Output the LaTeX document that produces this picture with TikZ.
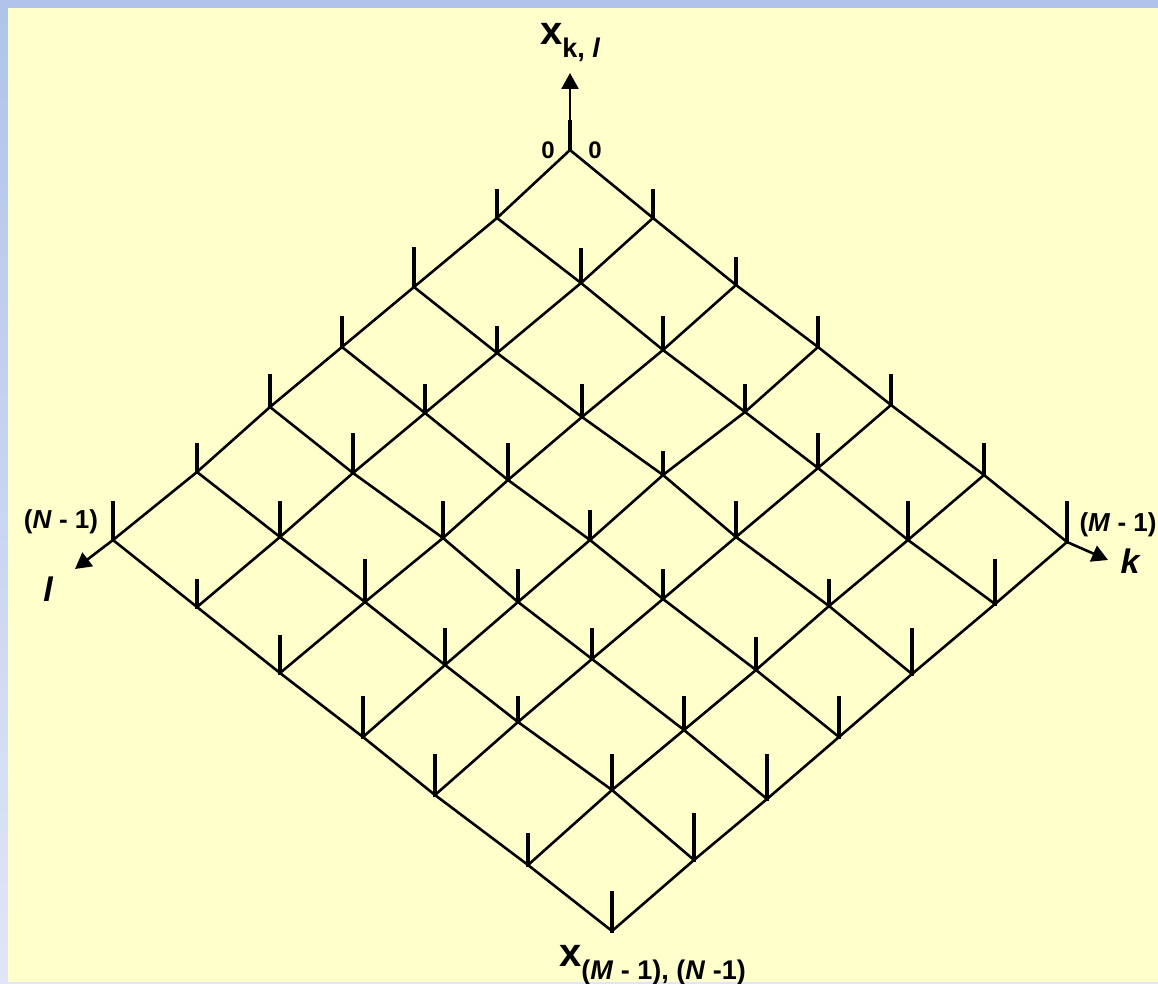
\documentclass[tikz,border=0pt]{standalone}
\usepackage{fontspec}
\setmainfont{Liberation Sans}
\usepackage{tikz}
\usetikzlibrary{arrows.meta}
\definecolor{frameblue}{RGB}{176,196,234}
\definecolor{framepale}{RGB}{224,230,245}
\definecolor{paper}{RGB}{255,255,204}

\begin{document}
\begin{tikzpicture}[x=1pt,y=-1pt,
  gridline/.style={line width=2.6pt,line cap=round,line join=round},
  stem/.style={line width=4.2pt},
  axis/.style={line width=2.6pt,-{Triangle[length=16pt,width=17pt]}},
  lbl/.style={inner sep=0pt,font=\bfseries\fontsize{26}{26}\selectfont}]
\useasboundingbox (0,0) rectangle (1158,984);
% frame and paper
\fill[frameblue] (0,0) rectangle (1158,984);
\shade[top color=frameblue,bottom color=framepale] (0,8) rectangle (8,984);
\fill[paper] (8,8) rectangle (1158,982);
\fill[framepale] (8,982) rectangle (1158,984);
% lattice points k/l with stem lengths
\foreach \i/\j/\px/\py/\len in {
  0/0/570/150/30, 1/0/653/218/29, 2/0/736/285/28, 3/0/818/347/31, 4/0/891/405/31, 5/0/984/475/32, 6/0/1067/542/41,
  0/1/497/218/29, 1/1/581/283/35, 2/1/663/350/34, 3/1/745/412/28, 4/1/818/468/35, 5/1/908/540/39, 6/1/995/604/45,
  0/2/414/287/40, 1/2/497/353/27, 2/2/582/417/33, 3/2/663/475/24, 4/2/736/537/36, 5/2/829/606/27, 6/2/912/674/46,
  0/3/342/347/31, 1/3/425/413/29, 2/3/508/480/37, 3/3/590/540/30, 4/3/663/599/30, 5/3/756/670/33, 6/3/839/737/41,
  0/4/270/407/33, 1/4/353/473/40, 2/4/443/538/37, 3/4/518/602/33, 4/4/592/659/31, 5/4/684/730/34, 6/4/767/799/45,
  0/5/197/472/29, 1/5/280/537/36, 2/5/365/602/43, 3/5/445/665/37, 4/5/518/722/26, 5/5/612/790/36, 6/5/694/860/47,
  0/6/113/540/39, 1/6/197/607/28, 2/6/280/673/38, 3/6/363/737/41, 4/6/435/795/41, 5/6/528/865/32, 6/6/612/931/40}{
  \coordinate (p\i\j) at (\px,\py);
  \coordinate (s\i\j) at (\px,\py-\len);
  \draw[stem] (\px,\py+2) -- (s\i\j);
}
% grid lines along k and along l
\foreach \a in {0,...,6}{
  \foreach \b in {0,...,5}{
    \pgfmathtruncatemacro{\bnext}{\b+1}
    \draw[gridline] (p\b\a) -- (p\bnext\a);
    \draw[gridline] (p\a\b) -- (p\a\bnext);
  }
}
% axes
\coordinate (xtip) at (570,73);
\coordinate (ltip) at (75,569);
\coordinate (ktip) at (1108,560);
\draw[axis] (s00) -- (xtip);
\draw[axis] (p06) -- (ltip);
\draw[axis] (p60) -- (ktip);
% labels
\node[lbl,anchor=base west,font=\bfseries\fontsize{40}{40}\selectfont] (xtop) at (540,45)
  {x\raisebox{-13pt}{\fontsize{27}{27}\selectfont k, \textit{l}}};
\node[lbl,anchor=base west,font=\bfseries\fontsize{40}{40}\selectfont] (xbot) at (559,966)
  {x\raisebox{-13pt}{\fontsize{27}{27}\selectfont (\textit{M} - 1), (\textit{N} -1)}};
\node[lbl,font=\bfseries\fontsize{24}{24}\selectfont] (zeroL) at (548,150) {0};
\node[lbl,font=\bfseries\fontsize{24}{24}\selectfont] (zeroR) at (595,150) {0};
\node[lbl] (lastN) at (61,522) {(\textit{N} - 1)};
\node[lbl] (lastM) at (1118,525) {(\textit{M} - 1)};
\node[lbl,font=\bfseries\itshape\fontsize{34}{34}\selectfont] (axl) at (48,589) {l};
\node[lbl,font=\bfseries\itshape\fontsize{34}{34}\selectfont] (axk) at (1130,561) {k};
\end{tikzpicture}
\end{document}
